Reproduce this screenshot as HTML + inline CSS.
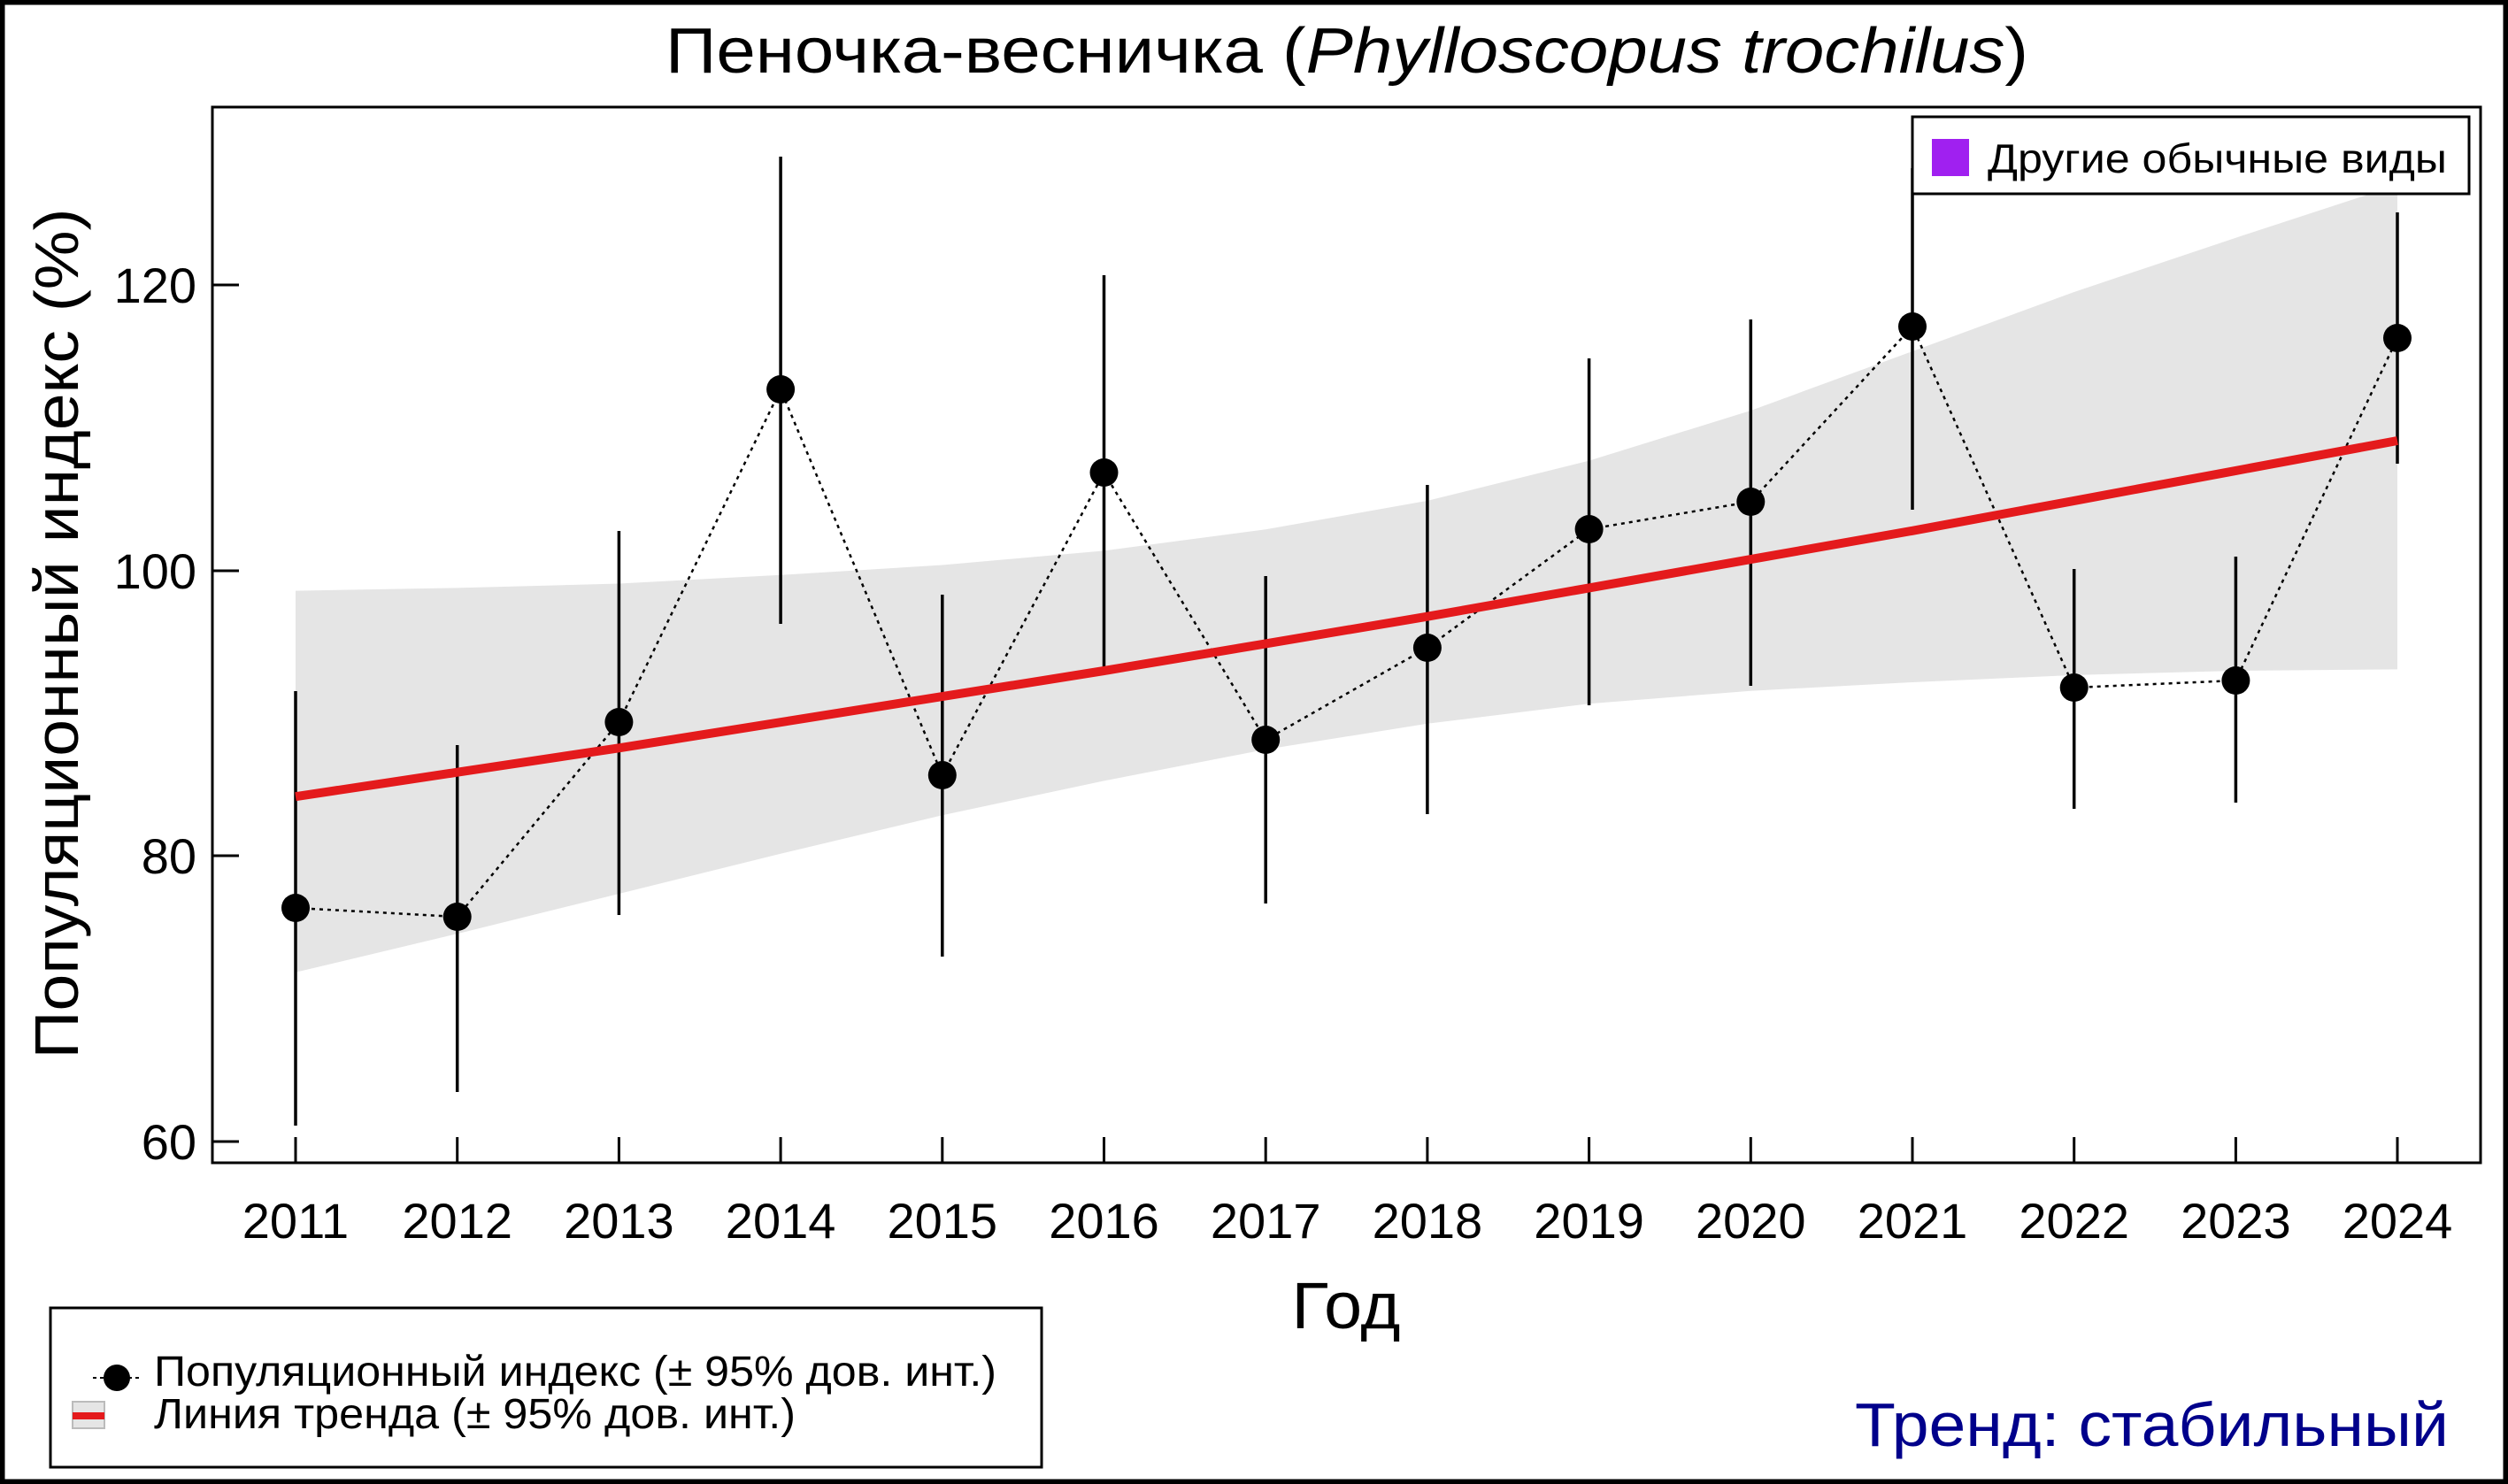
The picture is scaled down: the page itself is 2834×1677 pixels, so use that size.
<!DOCTYPE html>
<html><head><meta charset="utf-8"><style>html,body{margin:0;padding:0;background:#fff}svg{display:block}</style></head>
<body>
<svg width="2834" height="1677" viewBox="0 0 2834 1677" xmlns="http://www.w3.org/2000/svg" font-family="Liberation Sans, Arial, sans-serif">
<rect x="0" y="0" width="2834" height="1677" fill="#fff"/>
<rect x="2.5" y="2.5" width="2829" height="1672" fill="none" stroke="#000" stroke-width="6"/>
<!-- band -->
<polygon fill="#e5e5e5" points="334,667.6 516.7,664.4 699.4,659.5 882.1,649.8 1064.8,638.5 1247.5,622.4 1430.2,598.2 1612.9,565.9 1795.6,520.6 1978.3,464 2161,397 2343.7,330 2526.4,268.7 2709,209 2709,756.4 2526.4,758 2343.7,762.9 2161,771 1978.3,780.7 1795.6,795.2 1612.9,817.8 1430.2,846.9 1247.5,882.4 1064.8,921.2 882.1,964.8 699.4,1010 516.7,1055.2 334,1098.8"/>
<!-- error bars -->
<g stroke="#000" stroke-width="3.5">
<line x1="334" y1="781" x2="334" y2="1272"/>
<line x1="516.7" y1="842" x2="516.7" y2="1234"/>
<line x1="699.4" y1="600" x2="699.4" y2="1034"/>
<line x1="882.1" y1="177" x2="882.1" y2="705"/>
<line x1="1064.8" y1="672" x2="1064.8" y2="1081"/>
<line x1="1247.5" y1="311" x2="1247.5" y2="755"/>
<line x1="1430.2" y1="651" x2="1430.2" y2="1021"/>
<line x1="1612.9" y1="548" x2="1612.9" y2="920"/>
<line x1="1795.6" y1="405" x2="1795.6" y2="797"/>
<line x1="1978.3" y1="361" x2="1978.3" y2="775"/>
<line x1="2161" y1="190" x2="2161" y2="576"/>
<line x1="2343.7" y1="643" x2="2343.7" y2="914"/>
<line x1="2526.4" y1="629" x2="2526.4" y2="907"/>
<line x1="2709" y1="240" x2="2709" y2="524"/>
</g>
<!-- dotted -->
<polyline fill="none" stroke="#000" stroke-width="2.5" stroke-dasharray="4,5" points="334,1026 516.7,1036 699.4,816 882.1,440 1064.8,876 1247.5,534 1430.2,836 1612.9,732 1795.6,598 1978.3,567 2161,369 2343.7,777 2526.4,769 2709,382"/>
<!-- trend -->
<polyline fill="none" stroke="#e41a1c" stroke-width="10" points="334,900.2 516.7,872.7 699.4,845.3 882.1,816.2 1064.8,787.1 1247.5,758 1430.2,727.4 1612.9,696.7 1795.6,664.4 1978.3,632.1 2161,599.8 2343.7,565.9 2526.4,531.9 2709,498"/>
<!-- points -->
<g fill="#000">
<circle cx="334" cy="1026" r="16"/><circle cx="516.7" cy="1036" r="16"/><circle cx="699.4" cy="816" r="16"/><circle cx="882.1" cy="440" r="16"/><circle cx="1064.8" cy="876" r="16"/><circle cx="1247.5" cy="534" r="16"/><circle cx="1430.2" cy="836" r="16"/><circle cx="1612.9" cy="732" r="16"/><circle cx="1795.6" cy="598" r="16"/><circle cx="1978.3" cy="567" r="16"/><circle cx="2161" cy="369" r="16"/><circle cx="2343.7" cy="777" r="16"/><circle cx="2526.4" cy="769" r="16"/><circle cx="2709" cy="382" r="16"/>
</g>
<!-- axes box -->
<rect x="240" y="121" width="2563" height="1193" fill="none" stroke="#000" stroke-width="3"/>
<g stroke="#000" stroke-width="3">
<line x1="240" y1="322" x2="270" y2="322"/><line x1="240" y1="645" x2="270" y2="645"/><line x1="240" y1="967" x2="270" y2="967"/><line x1="240" y1="1290" x2="270" y2="1290"/>
<line x1="334" y1="1285" x2="334" y2="1314"/><line x1="516.7" y1="1285" x2="516.7" y2="1314"/><line x1="699.4" y1="1285" x2="699.4" y2="1314"/><line x1="882.1" y1="1285" x2="882.1" y2="1314"/><line x1="1064.8" y1="1285" x2="1064.8" y2="1314"/><line x1="1247.5" y1="1285" x2="1247.5" y2="1314"/><line x1="1430.2" y1="1285" x2="1430.2" y2="1314"/><line x1="1612.9" y1="1285" x2="1612.9" y2="1314"/><line x1="1795.6" y1="1285" x2="1795.6" y2="1314"/><line x1="1978.3" y1="1285" x2="1978.3" y2="1314"/><line x1="2161" y1="1285" x2="2161" y2="1314"/><line x1="2343.7" y1="1285" x2="2343.7" y2="1314"/><line x1="2526.4" y1="1285" x2="2526.4" y2="1314"/><line x1="2709" y1="1285" x2="2709" y2="1314"/>
</g>
<g font-size="56" text-anchor="end" fill="#000">
<text x="222" y="342">120</text><text x="222" y="665">100</text><text x="222" y="987">80</text><text x="222" y="1310">60</text>
</g>
<g font-size="56" text-anchor="middle" fill="#000">
<text x="334" y="1399">2011</text><text x="516.7" y="1399">2012</text><text x="699.4" y="1399">2013</text><text x="882.1" y="1399">2014</text><text x="1064.8" y="1399">2015</text><text x="1247.5" y="1399">2016</text><text x="1430.2" y="1399">2017</text><text x="1612.9" y="1399">2018</text><text x="1795.6" y="1399">2019</text><text x="1978.3" y="1399">2020</text><text x="2161" y="1399">2021</text><text x="2343.7" y="1399">2022</text><text x="2526.4" y="1399">2023</text><text x="2709" y="1399">2024</text>
</g>
<text x="1521" y="1501" font-size="74" text-anchor="middle" textLength="123" lengthAdjust="spacingAndGlyphs">Год</text>
<text transform="translate(88,716) rotate(-90)" font-size="70" text-anchor="middle" textLength="961" lengthAdjust="spacingAndGlyphs">Популяционный индекс (%)</text>
<text x="1522" y="82" font-size="72" text-anchor="middle" textLength="1540" lengthAdjust="spacingAndGlyphs">Пеночка-весничка (<tspan font-style="italic">Phylloscopus trochilus</tspan>)</text>
<!-- top legend -->
<rect x="2161" y="132" width="629" height="87" fill="#fff" stroke="#000" stroke-width="3"/>
<rect x="2183" y="157" width="42" height="42" fill="#a020f0"/>
<text x="2246" y="195" font-size="46" textLength="519" lengthAdjust="spacingAndGlyphs">Другие обычные виды</text>
<!-- bottom legend -->
<rect x="57" y="1478" width="1120" height="180" fill="#fff" stroke="#000" stroke-width="3"/>
<line x1="105" y1="1557" x2="160" y2="1557" stroke="#000" stroke-width="2" stroke-dasharray="4,4"/>
<circle cx="132" cy="1557" r="15" fill="#000"/>
<rect x="82" y="1584" width="36" height="30" fill="#e5e5e5" stroke="#bbb" stroke-width="2"/>
<line x1="82" y1="1600" x2="118" y2="1600" stroke="#e41a1c" stroke-width="8"/>
<text x="174" y="1566" font-size="48" textLength="952" lengthAdjust="spacingAndGlyphs">Популяционный индекс (± 95% дов. инт.)</text>
<text x="174" y="1614" font-size="48" textLength="725" lengthAdjust="spacingAndGlyphs">Линия тренда (± 95% дов. инт.)</text>
<text x="2767" y="1634" font-size="70" fill="#00008b" text-anchor="end" textLength="671" lengthAdjust="spacingAndGlyphs">Тренд: стабильный</text>
</svg>
</body></html>
